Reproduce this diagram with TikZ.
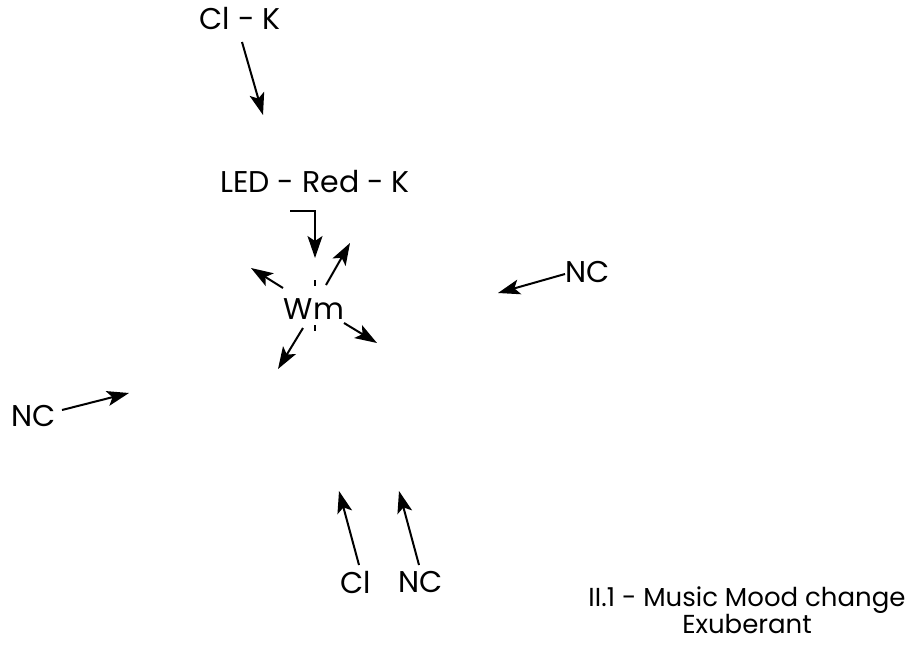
\documentclass[tikz,border=0pt]{standalone}
\usepackage{fontspec}
\setmainfont{Poppins}
\usetikzlibrary{arrows.meta}
\begin{document}
\begin{tikzpicture}[x=1pt,y=-1pt,
  lbl/.style={inner sep=0pt, font=\fontsize{30}{32}\selectfont},
  arr/.style={line width=2pt, -{Stealth[length=22pt,width=15pt,inset=5pt]}},
  tick/.style={line width=2pt}]
\useasboundingbox (0,0) rectangle (921,648);
\node[lbl] (clk) at (240,18) {Cl - K};
\node[lbl] (led) at (315,182) {LED - Red - K};
\node[lbl] (wm) at (314,309) {Wm};
\node[lbl] (ncr) at (588,272) {NC};
\node[lbl] (ncl) at (34,416) {NC};
\node[lbl] (cl) at (356,582) {Cl};
\node[lbl] (ncb) at (421,582) {NC};
\node[inner sep=0pt, align=center, font=\fontsize{26}{26}\selectfont] (title) at (747,610) {II.1 - Music Mood change\\Exuberant};
% coordinates
\coordinate (a1s) at (242,42); \coordinate (a1e) at (263,115);
\coordinate (e0) at (290,211); \coordinate (e1) at (315,211); \coordinate (e2) at (315,258);
\coordinate (t1a) at (315,280); \coordinate (t1b) at (315,286);
\coordinate (t2a) at (315,325); \coordinate (t2b) at (315,331);
\coordinate (ur0) at (326,285); \coordinate (ur1) at (350,243);
\coordinate (ul0) at (283,288); \coordinate (ul1) at (251,268);
\coordinate (dr0) at (344,323); \coordinate (dr1) at (377,343);
\coordinate (dl0) at (303,328); \coordinate (dl1) at (278,369);
\coordinate (nr0) at (565,274); \coordinate (nr1) at (498,293);
\coordinate (nl0) at (62,410); \coordinate (nl1) at (129,393);
\coordinate (b10) at (359,565); \coordinate (b11) at (339,491);
\coordinate (b20) at (419,565); \coordinate (b21) at (399,491);
\draw[arr] (a1s) -- (a1e);
\draw[arr] (e0) -- (e1) -- (e2);
\draw[tick] (t1a) -- (t1b);
\draw[tick] (t2a) -- (t2b);
\draw[arr] (ur0) -- (ur1);
\draw[arr] (ul0) -- (ul1);
\draw[arr] (dr0) -- (dr1);
\draw[arr] (dl0) -- (dl1);
\draw[arr] (nr0) -- (nr1);
\draw[arr] (nl0) -- (nl1);
\draw[arr] (b10) -- (b11);
\draw[arr] (b20) -- (b21);
\end{tikzpicture}
\end{document}
